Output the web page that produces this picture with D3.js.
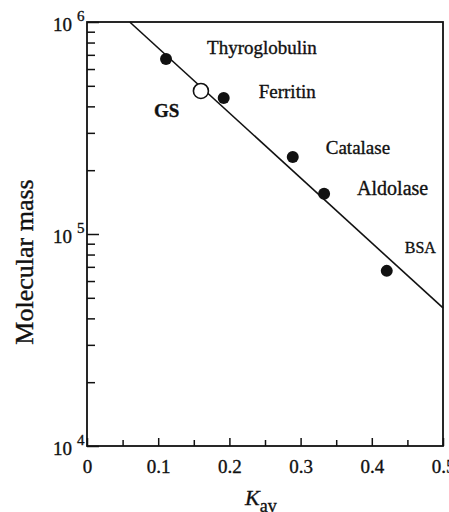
<!DOCTYPE html>
<html>
<head>
<meta charset="utf-8">
<script src="https://cdn.jsdelivr.net/npm/d3@7"></script>
<style>
  html, body { margin: 0; padding: 0; background: #fff; }
  svg { display: block; }
  text { font-family: "Liberation Serif", "Times New Roman", serif; fill: #111; stroke: #111; stroke-width: 0.35px; }
</style>
</head>
<body>
<script>
// ---- data ----
const proteins = ["Thyroglobulin", "Ferritin", "Catalase", "Aldolase", "BSA"];
const kav = [0.111, 0.192, 0.289, 0.333, 0.421];
const mass = [669000, 438000, 231000, 155000, 67000];
const unknownName = "GS";
const unknownKav = 0.160;
const unknownMass = 473000;
const fitKav = [0.06, 0.5];
const fitMass = [1000000, 44800];
const xTicks = [0, 0.1, 0.2, 0.3, 0.4, 0.5];
const xTickLabels = ["0", "0.1", "0.2", "0.3", "0.4", "0.5"];
const xMinorTicks = [0.05, 0.15, 0.25, 0.35, 0.45];
const yDecades = [1e4, 1e5, 1e6];
const yDecadeExp = ["4", "5", "6"];

// ---- layout (style only) ----
const W = 449, H = 512;
const mLeft = 87, mRight = 443, mTop = 22, mBottom = 446;
const labelOffsets = [[41, -5], [35, 0], [33, -3], [33, 1], [18, -18]];
const labelSizes = [19, 19, 19, 20, 16];
const unknownOffset = [-47, 26];

const svg = d3.select("body").append("svg").attr("width", W).attr("height", H);

const x = d3.scaleLinear().domain([0, 0.5]).range([mLeft, mRight]);
const y = d3.scaleLog().domain([1e4, 1e6]).range([mBottom, mTop]);

const yMinor = [];
[1e4, 1e5].forEach(d => { for (let k = 2; k <= 9; k++) yMinor.push(d * k); });

// frame
svg.append("rect")
  .attr("x", mLeft).attr("y", mTop)
  .attr("width", mRight - mLeft).attr("height", mBottom - mTop)
  .attr("fill", "none").attr("stroke", "#111").attr("stroke-width", 1.8);

// x axis major ticks + labels
const xAxis = svg.append("g").attr("transform", `translate(0,${mBottom})`)
  .call(d3.axisBottom(x).tickValues(xTicks)
    .tickFormat((d, i) => xTickLabels[i]).tickSize(-8).tickPadding(14));
xAxis.select(".domain").remove();
xAxis.selectAll("line").attr("stroke", "#111").attr("stroke-width", 1.5);
xAxis.selectAll("text").attr("font-size", 19).attr("fill", "#111")
  .style("font-family", "Liberation Serif, serif");

const xAxisMinor = svg.append("g").attr("transform", `translate(0,${mBottom})`)
  .call(d3.axisBottom(x).tickValues(xMinorTicks).tickFormat("").tickSize(-6));
xAxisMinor.select(".domain").remove();
xAxisMinor.selectAll("line").attr("stroke", "#111").attr("stroke-width", 1.5);

// y axis ticks
const yAxis = svg.append("g").attr("transform", `translate(${mLeft},0)`)
  .call(d3.axisLeft(y).tickValues(yDecades).tickFormat("").tickSize(-12));
yAxis.select(".domain").remove();
yAxis.selectAll("line").attr("stroke", "#111").attr("stroke-width", 1.5);

const yAxisMinor = svg.append("g").attr("transform", `translate(${mLeft},0)`)
  .call(d3.axisLeft(y).tickValues(yMinor).tickFormat("").tickSize(-8));
yAxisMinor.select(".domain").remove();
yAxisMinor.selectAll("line").attr("stroke", "#111").attr("stroke-width", 1.5);

// y decade labels 10^n
yDecades.forEach((d, i) => {
  const t = svg.append("text")
    .attr("x", 53).attr("y", y(d) + 9)
    .attr("font-size", 19);
  t.append("tspan").text("10");
  t.append("tspan").attr("dx", 5).attr("dy", -10).attr("font-size", 15).text(yDecadeExp[i]);
});

// axis titles
svg.append("text")
  .attr("transform", `translate(33,262) rotate(-90)`)
  .attr("text-anchor", "middle")
  .attr("font-size", 26)
  .text("Molecular mass");

const xt = svg.append("text").attr("x", 245).attr("y", 505).attr("font-size", 22);
xt.append("tspan").attr("font-style", "italic").text("K");
xt.append("tspan").attr("dy", 7).attr("font-size", 18).text("av");

// fit line
svg.append("line")
  .attr("x1", x(fitKav[0])).attr("y1", y(fitMass[0]))
  .attr("x2", x(fitKav[1])).attr("y2", y(fitMass[1]))
  .attr("stroke", "#111").attr("stroke-width", 1.6);

// standards
svg.selectAll("circle.std").data(kav).enter().append("circle")
  .attr("class", "std")
  .attr("cx", (d) => x(d)).attr("cy", (d, i) => y(mass[i]))
  .attr("r", 6).attr("fill", "#111");

svg.selectAll("text.std").data(proteins).enter().append("text")
  .attr("class", "std")
  .attr("x", (d, i) => x(kav[i]) + labelOffsets[i][0])
  .attr("y", (d, i) => y(mass[i]) + labelOffsets[i][1])
  .attr("font-size", (d, i) => labelSizes[i])
  .text(d => d);

// unknown (GS)
svg.append("circle")
  .attr("cx", x(unknownKav)).attr("cy", y(unknownMass))
  .attr("r", 7.5).attr("fill", "#fff").attr("stroke", "#111").attr("stroke-width", 1.6);
svg.append("text")
  .attr("x", x(unknownKav) + unknownOffset[0])
  .attr("y", y(unknownMass) + unknownOffset[1])
  .attr("font-size", 19).attr("font-weight", "bold")
  .text(unknownName);
</script>
</body>
</html>
